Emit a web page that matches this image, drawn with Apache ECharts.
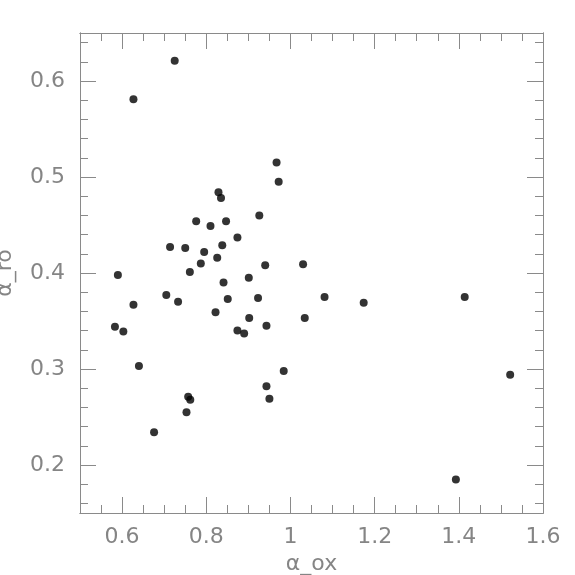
<!DOCTYPE html>
<html>
<head>
<meta charset="utf-8">
<script src="https://cdn.jsdelivr.net/npm/echarts@6/dist/echarts.min.js"></script>
<style>
html,body{margin:0;padding:0;background:#fff;}
#chart{width:575px;height:575px;}
</style>
</head>
<body>
<div id="chart"></div>
<script>
// Data
const alphaOx = [0.725,0.627,0.967,0.972,0.829,0.835,0.926,0.776,0.810,0.847,0.874,
  0.714,0.750,0.795,0.838,0.826,0.787,0.940,1.030,0.590,0.761,0.901,0.841,0.705,0.733,
  0.627,0.851,0.923,0.822,0.902,0.943,1.034,0.583,0.603,0.874,0.890,0.640,0.984,0.943,
  0.757,0.762,0.950,0.753,0.676,
  1.081,1.174,1.414,1.522,1.393];
const alphaRo = [0.621,0.581,0.515,0.495,0.484,0.478,0.460,0.454,0.449,0.454,0.437,
  0.427,0.426,0.422,0.429,0.416,0.410,0.408,0.409,0.398,0.401,0.395,0.390,0.377,0.370,
  0.367,0.373,0.374,0.359,0.353,0.345,0.353,0.344,0.339,0.340,0.337,0.303,0.298,0.282,
  0.271,0.268,0.269,0.255,0.234,
  0.375,0.369,0.375,0.294,0.185];
const xTickLabels = [0.6,0.8,1.0,1.2,1.4,1.6];
const yTickLabels = [0.2,0.3,0.4,0.5,0.6];
const xName = 'α_ox';
const yName = 'α_ro';

const X_MIN=0.5, X_MAX=1.6, Y_MIN=0.15, Y_MAX=0.65;
function steps(a,b,s){const r=[];for(let i=Math.round(a/s);i*s<=b+1e-9;i++){const v=+(i*s).toFixed(4);if(v>=a-1e-9)r.push(v);}return r;}
const xMinor = steps(X_MIN,X_MAX,0.05);
const xMajor = steps(X_MIN,X_MAX,0.2);
const yMinor = steps(Y_MIN,Y_MAX,0.02);
const yMajor = steps(Y_MIN,Y_MAX,0.1);

const axisColor = '#8a8a8a';
const textColor = '#858585';
const labelStyle = {color:textColor, fontFamily:'DejaVu Sans', fontSize:22};

function xAxisDef(pos, showLabels, major){
  return {
    type:'value', position:pos, min:X_MIN, max:X_MAX, offset:0,
    axisLine:{show:true, lineStyle:{color:axisColor,width:1}},
    axisTick:{show:true, inside:true, length: major?16:8, customValues: major?xMajor:xMinor, lineStyle:{color:axisColor}},
    axisLabel:Object.assign({show:showLabels, customValues:xTickLabels, margin:13,
      formatter:v=>String(+v.toFixed(1))}, labelStyle),
    splitLine:{show:false},
    name: (pos==='bottom' && showLabels) ? xName : '',
    nameLocation:'middle', nameGap:40,
    nameTextStyle:{color:textColor, fontFamily:'DejaVu Sans', fontSize:22}
  };
}
function yAxisDef(pos, showLabels, major){
  return {
    type:'value', position:pos, min:Y_MIN, max:Y_MAX, offset:0,
    axisLine:{show:true, lineStyle:{color:axisColor,width:1}},
    axisTick:{show:true, inside:true, length: major?16:8, customValues: major?yMajor:yMinor, lineStyle:{color:axisColor}},
    axisLabel:Object.assign({show:showLabels, customValues:yTickLabels, margin:15,
      formatter:v=>String(+v.toFixed(1))}, labelStyle),
    splitLine:{show:false},
    name: (pos==='left' && showLabels) ? yName : '',
    nameLocation:'middle', nameGap:64,
    nameTextStyle:{color:textColor, fontFamily:'DejaVu Sans', fontSize:22}
  };
}

const chart = echarts.init(document.getElementById('chart'), null, {renderer:'canvas'});
chart.setOption({
  animation:false,
  backgroundColor:'#ffffff',
  grid:{left:80, right:32, top:33, bottom:62, containLabel:false, outerBoundsMode:'none'},
  xAxis:[
    xAxisDef('bottom', true, true),
    xAxisDef('bottom', false, false),
    xAxisDef('top', false, true),
    xAxisDef('top', false, false)
  ],
  yAxis:[
    yAxisDef('left', true, true),
    yAxisDef('left', false, false),
    yAxisDef('right', false, true),
    yAxisDef('right', false, false)
  ],
  series:[{
    type:'scatter',
    xAxisIndex:0, yAxisIndex:0,
    symbol:'circle', symbolSize:8,
    itemStyle:{color:'#000000'},
    data: alphaOx.map((x,i)=>[x, alphaRo[i]])
  }]
});
</script>
</body>
</html>
